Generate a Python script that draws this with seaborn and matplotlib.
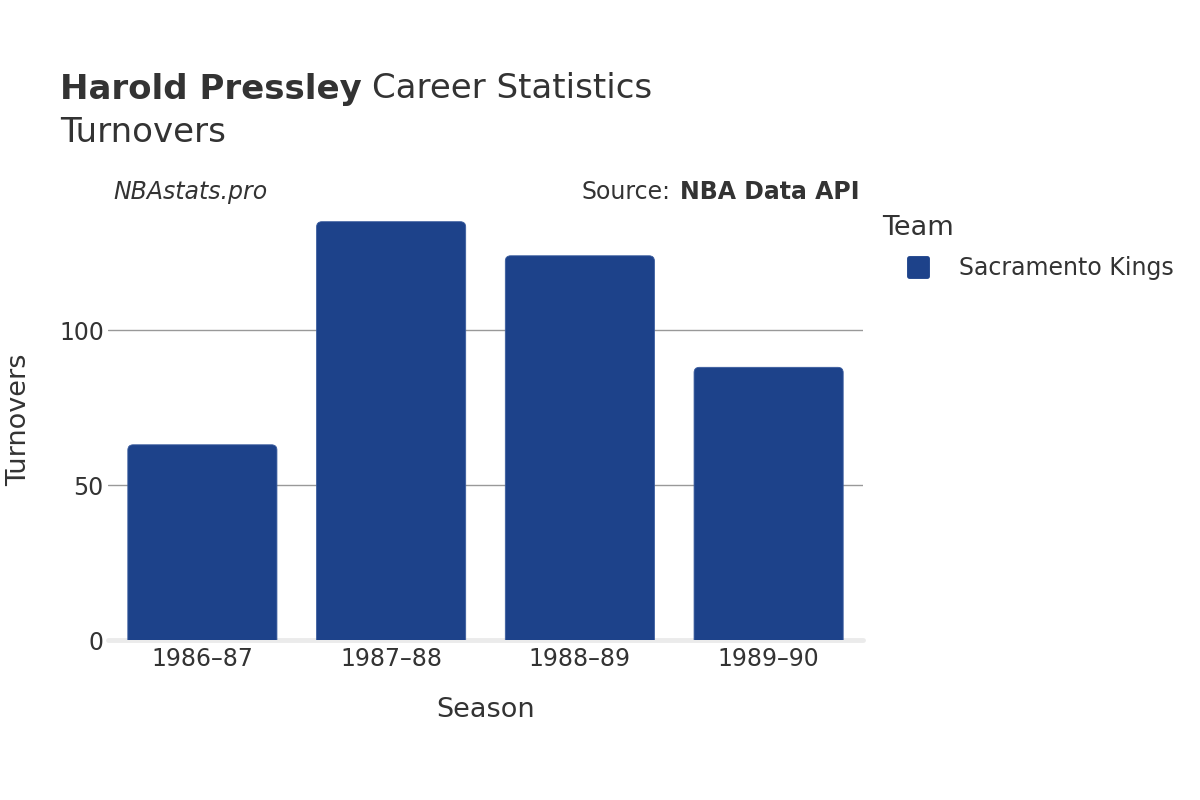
import matplotlib
matplotlib.use("Agg")
import pandas as pd
import matplotlib.pyplot as plt
import seaborn as sns
from matplotlib.patches import FancyBboxPatch
from matplotlib.lines import Line2D
from matplotlib.markers import MarkerStyle

# data
seasons = ["1986–87", "1987–88", "1988–89", "1989–90"]
turnovers = [63, 135, 124, 88]
teams = ["Sacramento Kings"] * 4
team_colors = {"Sacramento Kings": "#1d428a"}
y_ticks = [0, 50, 100]

df = pd.DataFrame({"Season": seasons, "Turnovers": turnovers, "Team": teams})

sns.set_style("white")
plt.rcParams["font.family"] = ["DejaVu Sans"]
text_color = "#333333"

W, H = 1200, 800
fig = plt.figure(figsize=(12, 8), dpi=100)
ax = fig.add_axes([108 / W, 1 - 640 / H, 755 / W, 440 / H])

sns.barplot(data=df, x="Season", y="Turnovers", hue="Team", palette=team_colors,
            width=0.79, dodge=False, legend=False, saturation=1, ax=ax, zorder=2)

# swap the plain rectangles for ones with rounded tops
for bar in list(ax.patches):
    x, w, h = bar.get_x(), bar.get_width(), bar.get_height()
    rounded = FancyBboxPatch((x, -4), w, h + 4,
                             boxstyle="round,pad=0,rounding_size=0.028",
                             mutation_aspect=61, facecolor=bar.get_facecolor(),
                             edgecolor="#3a5c9e", linewidth=0.6, zorder=2)
    bar.remove()
    ax.add_patch(rounded)

ax.set_xlim(-0.5, 3.5)
ax.set_ylim(0, 142)
ax.set_yticks(y_ticks)
ax.set_yticklabels([str(v) for v in y_ticks])
ax.yaxis.grid(True, color="#999999", lw=1)
ax.set_axisbelow(True)
ax.axhline(0, color="#ebebeb", lw=3.5, zorder=1.5, clip_on=False)
sns.despine(ax=ax, left=True, bottom=True)
ax.tick_params(axis="both", length=0, labelsize=17, colors=text_color)
ax.tick_params(axis="x", pad=5)
ax.tick_params(axis="y", pad=3)

ax.set_xlabel("Season", fontsize=19.5, color=text_color)
ax.set_ylabel("Turnovers", fontsize=19.5, color=text_color)
ax.xaxis.set_label_coords(0.5, -0.13)
ax.yaxis.set_label_coords(-0.1, 0.5)

# title: bold name followed by regular text
fig.canvas.draw()
t1 = fig.text(60 / W, 1 - 89 / H, "Harold Pressley", fontsize=24.5, fontweight="bold",
              color=text_color, va="center", ha="left")
fig.canvas.draw()
bb = t1.get_window_extent()
fig.text(bb.x1 / W + 10 / W, 1 - 89 / H, "Career Statistics", fontsize=24.5,
         color=text_color, va="center", ha="left")
fig.text(60 / W, 1 - 132 / H, "Turnovers", fontsize=24.5, color=text_color,
         va="center", ha="left")

# annotations above the plot
fig.text(113 / W, 1 - 192 / H, "NBAstats.pro", fontsize=17, style="italic",
         color=text_color, va="center", ha="left")
s2 = fig.text(860 / W, 1 - 192 / H, "NBA Data API", fontsize=17, fontweight="bold",
              color=text_color, va="center", ha="right")
fig.canvas.draw()
bb2 = s2.get_window_extent()
fig.text(bb2.x0 / W - 10 / W, 1 - 192 / H, "Source:", fontsize=17,
         color=text_color, va="center", ha="right")

# legend
marker = MarkerStyle("s", joinstyle="round")
handle = Line2D([], [], marker=marker, markersize=12.5, markeredgewidth=3.5,
                color=team_colors["Sacramento Kings"], linestyle="none")
leg = fig.legend([handle], ["Sacramento Kings"], title="Team", loc="upper left",
                 bbox_to_anchor=(882 / W, 1 - 215 / H), frameon=False, fontsize=17,
                 title_fontsize=19.5, handlelength=3.05, handletextpad=0.2,
                 labelspacing=0.65, borderpad=0, borderaxespad=0, alignment="left")
for txt in leg.get_texts():
    txt.set_color(text_color)
leg.get_title().set_color(text_color)

fig.savefig("out.png", dpi=100)
plt.close(fig)
